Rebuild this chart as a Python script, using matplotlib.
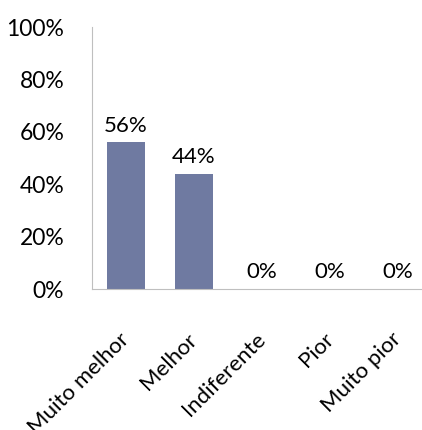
import matplotlib
matplotlib.use('Agg')
import matplotlib.pyplot as plt
from matplotlib.ticker import FuncFormatter

categories = ['Muito melhor', 'Melhor', 'Indiferente', 'Pior', 'Muito pior']
values = [56, 44, 0, 0, 0]

BAR_COLOR = '#6f7aa1'

plt.rcParams['font.family'] = ['Lato', 'DejaVu Sans']

fig = plt.figure(figsize=(4.22, 4.30), dpi=100)
ax = fig.add_axes([92 / 422, 141 / 430, 330 / 422, 262 / 430])

x = list(range(len(categories)))
bars = ax.bar(x, values, width=0.56, color=BAR_COLOR)

for xi, v in zip(x, values):
  ax.text(xi, v + 2.5, str(v) + '%', ha='center', va='bottom', fontsize=16)

ax.set_ylim(0, 100)
ax.set_xlim(-0.5, 4.35)
ax.set_yticks([0, 20, 40, 60, 80, 100])
ax.yaxis.set_major_formatter(FuncFormatter(lambda v, p: '%d%%' % v))
ax.set_xticks(x)
ax.set_xticklabels(categories, rotation=45, ha='right', va='center',
                   rotation_mode='anchor', fontsize=16)
ax.tick_params(axis='y', length=0, labelsize=16.5, pad=20)
ax.tick_params(axis='x', length=0, pad=34)

for s in ['top', 'right']:
  ax.spines[s].set_visible(False)
ax.spines['left'].set_color('#bfbfbf')
ax.spines['bottom'].set_color('#bfbfbf')

plt.savefig('out.png', dpi=100)
